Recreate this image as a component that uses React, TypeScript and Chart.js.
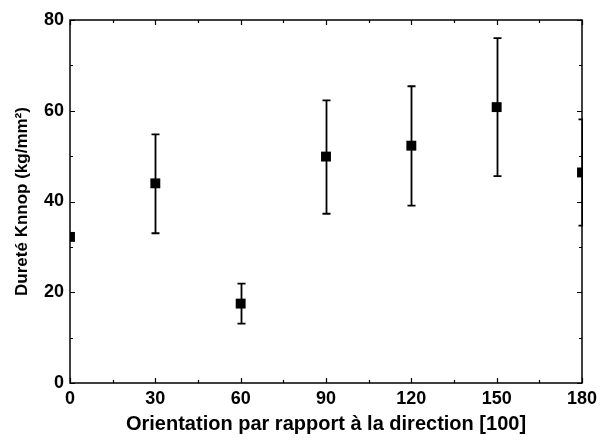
import React, { useEffect, useRef } from "react";
import { Chart, registerables } from "chart.js";

Chart.register(...registerables);

const angles = [0, 30, 60, 90, 120, 150, 180];
const hardness = [32.2, 44.0, 17.5, 49.9, 52.3, 60.8, 46.4];
const errLow: (number | null)[] = [null, 33.0, 13.1, 37.3, 39.1, 45.6, 34.7];
const errHigh: (number | null)[] = [null, 54.8, 21.9, 62.3, 65.4, 76.0, 58.1];

const xTitle = "Orientation par rapport à la direction [100]";
const yTitle = "Dureté Knnop (kg/mm²)";

const FONT = "'Liberation Sans', Arial, Helvetica, sans-serif";

const errorBarPlugin = {
  id: "errorBars",
  afterDatasetsDraw(chart: any) {
    const { ctx, chartArea, scales } = chart;
    const xs = scales.x;
    const ys = scales.y;
    ctx.save();
    ctx.beginPath();
    ctx.rect(chartArea.left - 1, chartArea.top - 1, chartArea.right - chartArea.left + 2, chartArea.bottom - chartArea.top + 2);
    ctx.clip();
    ctx.strokeStyle = "#000";
    ctx.lineWidth = 1.8;
    const cap = 4;
    angles.forEach((a, i) => {
      const lo = errLow[i];
      const hi = errHigh[i];
      if (lo == null || hi == null) return;
      const px = Math.round(xs.getPixelForValue(a)) + 0.5;
      const pLo = ys.getPixelForValue(lo);
      const pHi = ys.getPixelForValue(hi);
      ctx.beginPath();
      ctx.moveTo(px, pLo);
      ctx.lineTo(px, pHi);
      ctx.moveTo(px - cap, pLo);
      ctx.lineTo(px + cap, pLo);
      ctx.moveTo(px - cap, pHi);
      ctx.lineTo(px + cap, pHi);
      ctx.stroke();
    });
    ctx.restore();
  },
};

const framePlugin = {
  id: "frameTicks",
  afterDraw(chart: any) {
    const { ctx, chartArea, scales } = chart;
    const { left, right, top, bottom } = chartArea;
    ctx.save();
    ctx.strokeStyle = "#000";
    ctx.lineWidth = 1.5;
    ctx.strokeRect(left, top, right - left, bottom - top);
    ctx.lineWidth = 1.2;
    const major = 5;
    const minor = 3;
    const xs = scales.x;
    const ys = scales.y;
    const xTicks = xs.ticks.map((t: any) => t.value);
    const yTicks = ys.ticks.map((t: any) => t.value);
    const xMinor: number[] = [];
    for (let i = 0; i < xTicks.length - 1; i++) xMinor.push((xTicks[i] + xTicks[i + 1]) / 2);
    const yMinor: number[] = [];
    for (let i = 0; i < yTicks.length - 1; i++) yMinor.push((yTicks[i] + yTicks[i + 1]) / 2);
    ctx.beginPath();
    const drawX = (v: number, len: number) => {
      const p = Math.round(xs.getPixelForValue(v)) + 0.5;
      ctx.moveTo(p, bottom);
      ctx.lineTo(p, bottom - len);
      ctx.moveTo(p, top);
      ctx.lineTo(p, top + len);
    };
    const drawY = (v: number, len: number) => {
      const p = Math.round(ys.getPixelForValue(v)) + 0.5;
      ctx.moveTo(left, p);
      ctx.lineTo(left + len, p);
      ctx.moveTo(right, p);
      ctx.lineTo(right - len, p);
    };
    xTicks.forEach((v: number) => drawX(v, major));
    xMinor.forEach((v: number) => drawX(v, minor));
    yTicks.forEach((v: number) => drawY(v, major));
    yMinor.forEach((v: number) => drawY(v, minor));
    ctx.stroke();
    ctx.restore();
  },
};

export default function App() {
  const ref = useRef<HTMLCanvasElement | null>(null);
  useEffect(() => {
    if (!ref.current) return;
    const chart = new Chart(ref.current, {
      type: "scatter",
      data: {
        datasets: [
          {
            label: "Dureté",
            data: angles.map((a, i) => ({ x: a, y: hardness[i] })),
            pointStyle: "rect",
            pointRadius: 7,
            pointHoverRadius: 7,
            backgroundColor: "#000",
            borderColor: "#000",
            borderWidth: 0,
            clip: 0,
          } as any,
        ],
      },
      options: {
        responsive: false,
        animation: false,
        events: [],
        layout: { padding: { top: 20, right: 24, left: 0, bottom: 0 } },
        plugins: { legend: { display: false }, tooltip: { enabled: false } },
        scales: {
          x: {
            type: "linear",
            min: 0,
            max: 180,
            ticks: {
              stepSize: 30,
              color: "#000",
              font: { family: FONT, size: 18, weight: "bold" },
              padding: 5,
            },
            grid: { display: false, drawTicks: false },
            border: { display: false },
            title: {
              display: true,
              text: xTitle,
              color: "#000",
              font: { family: FONT, size: 20, weight: "bold" },
              padding: { top: 0, bottom: 10 },
            },
            afterFit(scale: any) {
              scale.height = 63;
            },
          },
          y: {
            type: "linear",
            min: 0,
            max: 80,
            ticks: {
              stepSize: 20,
              color: "#000",
              font: { family: FONT, size: 18, weight: "bold" },
              padding: 6,
            },
            grid: { display: false, drawTicks: false },
            border: { display: false },
            title: {
              display: true,
              text: yTitle,
              color: "#000",
              font: { family: FONT, size: 17, weight: "bold" },
              padding: { top: 12, bottom: 0 },
            },
            afterFit(scale: any) {
              scale.width = 70;
            },
          },
        },
      },
      plugins: [errorBarPlugin, framePlugin],
    });
    return () => chart.destroy();
  }, []);
  return (
    <div style={{ position: "fixed", left: 0, top: 0, width: 606, height: 446, background: "#fff" }}>
      <canvas ref={ref} width={606} height={446} />
    </div>
  );
}
